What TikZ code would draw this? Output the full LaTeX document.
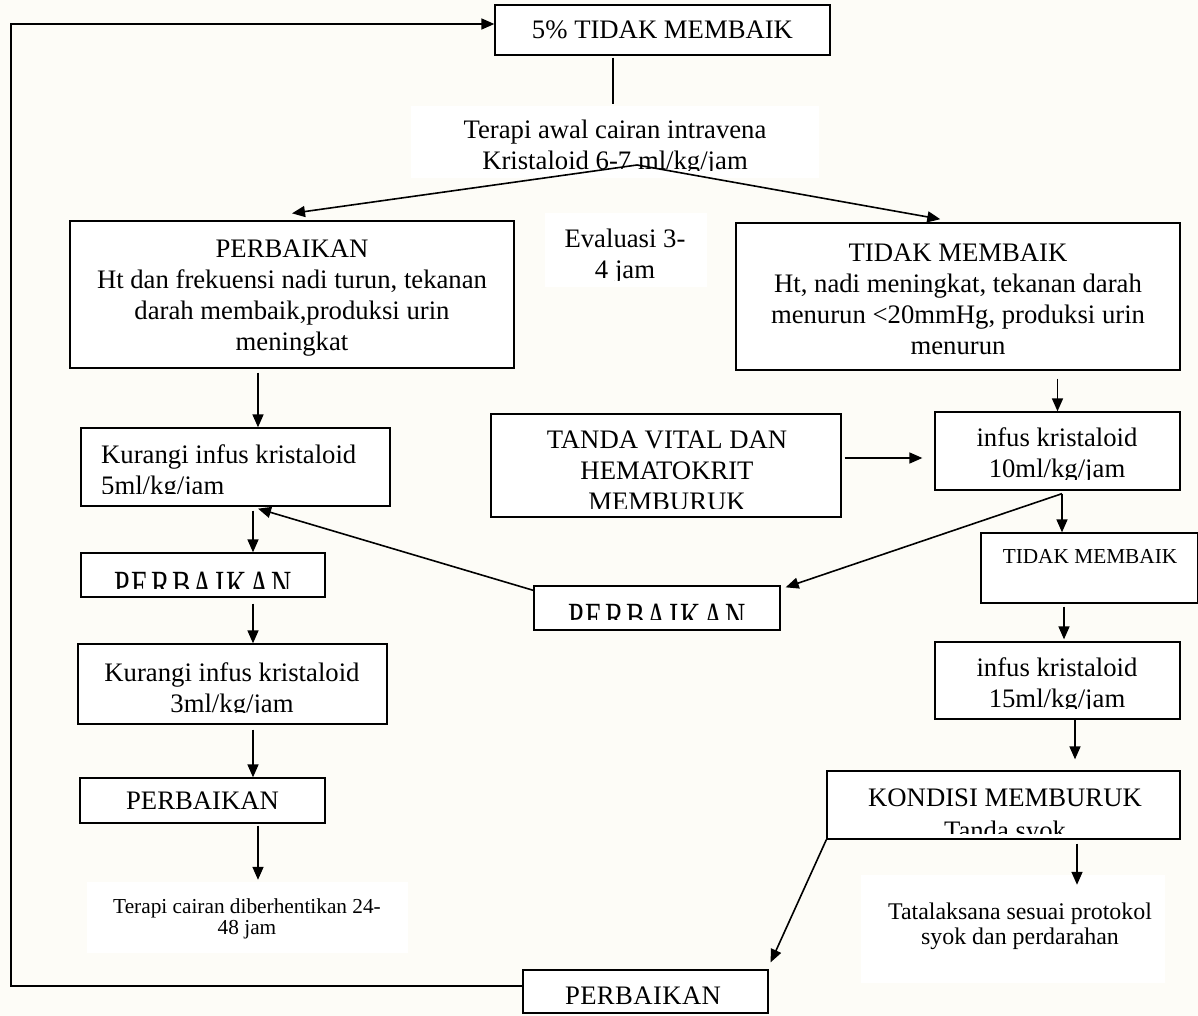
\documentclass[tikz,border=0pt]{standalone}
\usepackage{fontspec}
\setmainfont{Liberation Serif}
\usetikzlibrary{arrows.meta,calc}
\definecolor{paper}{RGB}{253,252,247}
\newcommand{\fbase}{\fontsize{26.7}{31}\selectfont}
\newcommand{\fsm}{\fontsize{21.3}{21}\selectfont}
\newcommand{\fmid}{\fontsize{23.9}{25}\selectfont}
\newcommand{\fwide}{\fontsize{40}{40}\selectfont\addfontfeature{FakeStretch=0.7,LetterSpace=5.5}}
\tikzset{
	box/.style={draw, fill=white, line width=1.3pt, inner sep=0pt, align=center, font=\fbase},
	pad/.style={fill=white, inner sep=0pt},
	txt/.style={align=center, inner sep=0pt, font=\fbase},
	arr/.style={-{Triangle[length=13pt,width=11pt]}, line width=1.6pt},
	ln/.style={line width=1.6pt}
}
\begin{document}
\begin{tikzpicture}[x=1pt,y=-1pt]
		\fill[paper] (0,0) rectangle (1198,1016);
		\useasboundingbox (0,0) rectangle (1198,1016);
		
		%%%% top
		\node[box,minimum width=335,minimum height=50] (top) at (662.5,30) {5\% TIDAK MEMBAIK};
		\node[pad,minimum width=408,minimum height=72] (awal) at (615,142) {};
		\begin{scope}
			\clip (awal.north west) rectangle ([yshift=8pt]awal.south east);
			\node[txt] (awalT) at (615,148) {Terapi awal cairan intravena\\Kristaloid 6-7 ml/kg/jam};
		\end{scope}
		\coordinate (split) at (637,165);
		
		%%%% second row
		\node[box,minimum width=444,minimum height=147] (pb) at (292,294.5) {};
		\node[txt] (pbT) at (292,298) {PERBAIKAN\\Ht dan frekuensi nadi turun, tekanan\\darah membaik,produksi urin\\meningkat};
		\node[box,minimum width=444,minimum height=147] (tm) at (958,296.5) {};
		\node[txt] (tmT) at (958,299) {TIDAK MEMBAIK\\Ht, nadi meningkat, tekanan darah\\menurun <20mmHg, produksi urin\\menurun};
		\node[pad,minimum width=162,minimum height=74] (eval) at (626,250) {};
		\begin{scope}
			\clip (eval.north west) rectangle ([yshift=7pt]eval.south east);
			\node[txt] (evalT) at (625,257) {Evaluasi 3-\\4 jam};
		\end{scope}
		
		%%%% left column
		\node[box,minimum width=309,minimum height=78] (k5) at (235.5,467) {};
		\begin{scope}
			\clip (k5.north west) rectangle ([yshift=13pt]k5.south east);
			\node[txt,align=left,anchor=west] (k5T) at (101,472) {Kurangi infus kristaloid\\5ml/kg/jam};
		\end{scope}
		\node[box,minimum width=244,minimum height=44] (pk1) at (203,575) {};
		\begin{scope}
			\clip (pk1.north west) rectangle ([yshift=9pt]pk1.south east);
			\node[txt,font=\fwide] (pk1T) at (203,585) {PERBAIKAN};
		\end{scope}
		\node[box,minimum width=309,minimum height=80] (k3) at (232.5,684) {};
		\begin{scope}
			\clip (k3.north west) rectangle ([yshift=12pt]k3.south east);
			\node[txt] (k3T) at (232,690) {Kurangi infus kristaloid\\3ml/kg/jam};
		\end{scope}
		\node[box,minimum width=245,minimum height=45] (pk3) at (202.5,800.5) {PERBAIKAN};
		\node[pad,minimum width=321,minimum height=71] (stop) at (247.5,917.5) {};
		\node[txt,font=\fsm] (stopT) at (247,919) {Terapi cairan diberhentikan 24-\\48 jam};
		
		%%%% middle
		\node[box,minimum width=350,minimum height=103] (tanda) at (666,465.5) {};
		\begin{scope}
			\clip (tanda.north west) rectangle ([yshift=9pt]tanda.south east);
			\node[txt] (tandaT) at (667,471) {TANDA VITAL DAN\\HEMATOKRIT\\MEMBURUK};
		\end{scope}
		\node[box,minimum width=246,minimum height=44] (pk2) at (657,608) {};
		\begin{scope}
			\clip (pk2.north west) rectangle ([yshift=11pt]pk2.south east);
			\node[txt,font=\fwide] (pk2T) at (657,617) {PERBAIKAN};
		\end{scope}
		\node[box,minimum width=245,minimum height=43] (pk4) at (645.5,991.5) {};
		\begin{scope}
			\clip (pk4.north west) rectangle ([yshift=9.5pt]pk4.south east);
			\node[txt,font=\fbase\addfontfeature{LetterSpace=1.5}] (pk4T) at (643,996) {PERBAIKAN};
		\end{scope}
		
		%%%% right column
		\node[box,minimum width=245,minimum height=78] (i10) at (1057.5,451) {};
		\begin{scope}
			\clip (i10.north west) rectangle ([yshift=11pt]i10.south east);
			\node[txt] (i10T) at (1057,455) {infus kristaloid\\10ml/kg/jam};
		\end{scope}
		\node[box,minimum width=217,minimum height=70] (tm2) at (1089.5,568) {};
		\node[txt,font=\fsm] (tm2T) at (1090,556) {TIDAK MEMBAIK};
		\node[box,minimum width=245,minimum height=77] (i15) at (1057.5,680.5) {};
		\begin{scope}
			\clip (i15.north west) rectangle ([yshift=11pt]i15.south east);
			\node[txt] (i15T) at (1057,685) {infus kristaloid\\15ml/kg/jam};
		\end{scope}
		\node[box,minimum width=353,minimum height=68] (kond) at (1003.5,805) {};
		\begin{scope}
			\clip (kond.north west) rectangle ([yshift=6pt]kond.south east);
			\node[txt,font=\fontsize{26.7}{33}\selectfont] (kondT) at (1005,817) {KONDISI MEMBURUK\\Tanda syok};
		\end{scope}
		\node[pad,minimum width=304,minimum height=108] (tata) at (1013,929) {};
		\node[txt,font=\fmid] (tataT) at (1020,926) {Tatalaksana sesuai protokol\\syok dan perdarahan};
		
		%%%% connectors
		\draw[ln,shorten <=2pt,shorten >=2pt] ([xshift=-49.5pt]top.south) -- ([xshift=-49.5pt]top.south |- awal.north);
		\draw[arr] (split) -- ([yshift=7pt]pb.north);
		\draw[arr,shorten >=18pt] (split) -- (tm.north);
		\draw[arr,shorten <=4pt] ([xshift=-34pt]pb.south) -- ([xshift=-34pt]pb.south |- k5.north);
		\draw[arr,shorten <=8pt] (tm.south -| i10.north) -- (i10.north);
		\draw[arr,shorten <=3pt,shorten >=12pt] ([yshift=7.5pt]tanda.east) -- ([yshift=7.5pt]tanda.east -| i10.west);
		\draw[arr,shorten <=4pt] ([xshift=17.5pt]k5.south) -- ([xshift=17.5pt]k5.south |- pk1.north);
		\draw[arr] ([yshift=-5pt]pk2.north west) -- ([xshift=22.5pt,yshift=-2pt]k5.south);
		\draw[arr] ([xshift=4.5pt,yshift=-3pt]i10.south) -- ([xshift=5pt,yshift=-2pt]pk2.north east);
		\draw[arr] ([xshift=4.5pt,yshift=-3pt]i10.south) -- ([xshift=4.5pt]i10.south |- tm2.north);
		\draw[arr,shorten <=6pt] ([xshift=50pt]pk1.south) -- ([xshift=50pt]pk1.south |- k3.north);
		\draw[arr,shorten <=5pt] ([xshift=20.5pt]k3.south) -- ([xshift=20.5pt]k3.south |- pk3.north);
		\draw[arr,shorten <=2pt,shorten >=2pt] ([xshift=55.5pt]pk3.south) -- ([xshift=55.5pt]pk3.south |- stop.north);
		\draw[arr,shorten <=3pt,shorten >=2pt] ([xshift=-25.5pt]tm2.south) -- ([xshift=-25.5pt]tm2.south |- i15.north);
		\draw[arr,shorten >=11pt] ([xshift=17.5pt]i15.south) -- ([xshift=17.5pt]i15.south |- kond.north);
		\draw[arr,shorten <=4pt] ([xshift=73.5pt]kond.south) -- ([xshift=73.5pt,yshift=-10pt]kond.south |- tata.north);
		\draw[arr] (kond.south west) -- ([xshift=2pt,yshift=7pt]pk4.north east);
		
		%%%% loop back
		\coordinate (loopx) at (11,500);
		\draw[arr] ([yshift=5.5pt]pk4.west) -| (loopx) |- ([yshift=6pt]top.west);
	\end{tikzpicture}
\end{document}
